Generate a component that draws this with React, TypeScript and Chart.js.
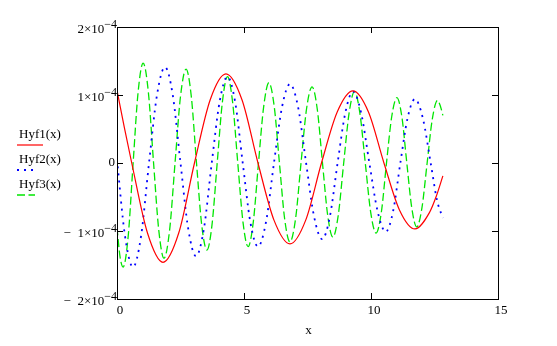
import React, { useEffect, useRef } from 'react';
import { Chart, registerables } from 'chart.js';

Chart.register(...registerables);

const UNIT = 1e-4;
const X_TICKS = [0, 5, 10, 15];
const Y_TICKS = [2, 1, 0, -1, -2];
const SERIES_NAMES = ['Hyf1(x)', 'Hyf2(x)', 'Hyf3(x)'];
const X_TITLE = 'x';

// Hyf1(x) — red solid (values in units of 1e-4)
const hyf1X = [0, 0.29, 0.58, 1.2, 1.81, 2.43, 3.05, 3.67, 4.29, 4.92, 5.55, 6.18, 6.81, 7.43, 8.05, 8.67, 9.29, 9.9, 10.51, 11.12, 11.73, 12.3, 12.57, 12.83];
const hyf1Y = [1.07, 0.52, 0, -1.03, -1.46, -1.03, 0, 0.93, 1.31, 0.93, 0, -0.84, -1.19, -0.84, 0, 0.75, 1.06, 0.75, 0, -0.69, -0.97, -0.73, -0.49, -0.19];

// Hyf2(x) — blue dotted
const hyf2X = [0, 0.31, 0.63, 0.945, 1.26, 1.575, 1.89, 2.195, 2.5, 2.805, 3.11, 3.42, 3.73, 4.04, 4.35, 4.65, 4.95, 5.25, 5.55, 5.865, 6.18, 6.495, 6.81, 7.13, 7.445, 7.76, 8.08, 8.38, 8.685, 8.99, 9.29, 9.61, 9.935, 10.26, 10.58, 10.87, 11.155, 11.44, 11.73, 12.04, 12.35, 12.6, 12.83];
const hyf2Y = [0.05, -1.06, -1.53, -1.08, 0, 1.0, 1.41, 1.0, 0, -0.97, -1.37, -0.97, 0, 0.9, 1.27, 0.9, 0, -0.87, -1.23, -0.87, 0, 0.82, 1.16, 0.82, 0, -0.79, -1.12, -0.79, 0, 0.74, 1.05, 0.74, 0, -0.71, -1.01, -0.71, 0, 0.66, 0.94, 0.66, 0, -0.55, -0.81];

// Hyf3(x) — green dashed
const hyf3X = [0, 0.12, 0.24, 0.44, 0.635, 0.83, 1.03, 1.235, 1.44, 1.645, 1.85, 2.07, 2.285, 2.5, 2.72, 2.925, 3.13, 3.335, 3.54, 3.74, 3.945, 4.15, 4.35, 4.55, 4.755, 4.96, 5.16, 5.365, 5.57, 5.775, 5.98, 6.19, 6.395, 6.6, 6.81, 7.03, 7.245, 7.46, 7.68, 7.885, 8.09, 8.295, 8.5, 8.71, 8.925, 9.14, 9.35, 9.56, 9.775, 9.99, 10.2, 10.405, 10.61, 10.815, 11.02, 11.215, 11.41, 11.605, 11.8, 12.005, 12.21, 12.415, 12.62, 12.72, 12.83];
const hyf3Y = [-0.95, -1.38, -1.53, -1.08, 0, 1.04, 1.47, 1.04, 0, -0.99, -1.4, -0.99, 0, 0.98, 1.38, 0.98, 0, -0.91, -1.28, -0.91, 0, 0.9, 1.27, 0.9, 0, -0.87, -1.23, -0.87, 0, 0.83, 1.18, 0.83, 0, -0.82, -1.16, -0.82, 0, 0.79, 1.12, 0.79, 0, -0.77, -1.09, -0.77, 0, 0.74, 1.05, 0.74, 0, -0.73, -1.03, -0.73, 0, 0.68, 0.96, 0.68, 0, -0.66, -0.94, -0.66, 0, 0.65, 0.92, 0.85, 0.7];

const COLORS = ['#ff0000', '#0000ff', '#00e600'];
const DASHES: number[][] = [[], [2, 5], [8, 3.5]];
const WIDTHS = [1.2, 1.8, 1.3];
const FONT = '"Liberation Serif", "Times New Roman", serif';

const toPoints = (xs: number[], ys: number[]) => xs.map((x, i) => ({ x, y: ys[i] * UNIT }));

const mathcadPlugin = {
  id: 'mathcadDecor',
  afterDatasetsDraw(chart: any) {
    const { ctx, chartArea: a, scales } = chart;
    const xs = scales.x;
    const ys = scales.y;
    ctx.save();
    ctx.setLineDash([]);
    ctx.strokeStyle = '#000';
    ctx.lineWidth = 1;
    const L = Math.round(a.left), T = Math.round(a.top), R = Math.round(a.right), B = Math.round(a.bottom);
    ctx.strokeRect(L + 0.5, T + 0.5, R - L, B - T);
    ctx.beginPath();
    for (const v of X_TICKS.slice(1, -1)) {
      const px = Math.round(xs.getPixelForValue(v)) + 0.5;
      ctx.moveTo(px, B); ctx.lineTo(px, B - 6);
      ctx.moveTo(px, T); ctx.lineTo(px, T + 6);
    }
    for (const v of Y_TICKS.slice(1, -1)) {
      const py = Math.round(ys.getPixelForValue(v * UNIT)) + 0.5;
      ctx.moveTo(L, py); ctx.lineTo(L + 6, py);
      ctx.moveTo(R, py); ctx.lineTo(R - 6, py);
    }
    ctx.stroke();

    ctx.fillStyle = '#000';
    ctx.font = `13px ${FONT}`;
    ctx.textAlign = 'center';
    ctx.textBaseline = 'alphabetic';
    for (const v of X_TICKS) ctx.fillText(String(v), xs.getPixelForValue(v) + 3, B + 15);
    ctx.fillText(X_TITLE, (a.left + a.right) / 2 + 1, B + 35);

    for (const v of Y_TICKS) {
      const py = ys.getPixelForValue(v * UNIT);
      if (v === 0) {
        ctx.textAlign = 'right';
        ctx.textBaseline = 'middle';
        ctx.font = `13px ${FONT}`;
        ctx.fillText('0', L - 2, py);
        continue;
      }
      ctx.textAlign = 'right';
      ctx.textBaseline = 'alphabetic';
      ctx.font = `12px ${FONT}`;
      const sup = '−4';
      ctx.fillText(sup, L, py + 1);
      const supW = ctx.measureText(sup).width;
      ctx.font = `13px ${FONT}`;
      const mant = (v < 0 ? '−  ' : '') + Math.abs(v) + '×10';
      ctx.fillText(mant, L - supW, py + 6);
    }

    // legend
    const baselines = [138, 163, 188];
    const lineLens = [26, 21, 18];
    ctx.font = `13px ${FONT}`;
    ctx.textAlign = 'left';
    ctx.textBaseline = 'alphabetic';
    SERIES_NAMES.forEach((name, i) => {
      ctx.fillStyle = '#000';
      ctx.fillText(name, 19, baselines[i]);
      ctx.beginPath();
      ctx.strokeStyle = COLORS[i];
      ctx.lineWidth = WIDTHS[i];
      ctx.setLineDash(DASHES[i]);
      ctx.moveTo(17, baselines[i] + 7);
      ctx.lineTo(17 + lineLens[i], baselines[i] + 7);
      ctx.stroke();
    });
    ctx.restore();
  },
};

export default function App() {
  const ref = useRef<HTMLCanvasElement>(null);
  useEffect(() => {
    const series = [toPoints(hyf1X, hyf1Y), toPoints(hyf2X, hyf2Y), toPoints(hyf3X, hyf3Y)];
    const chart = new Chart(ref.current as HTMLCanvasElement, {
      type: 'line',
      data: {
        datasets: series.map((data, i) => ({
          label: SERIES_NAMES[i],
          data,
          borderColor: COLORS[i],
          backgroundColor: COLORS[i],
          borderWidth: WIDTHS[i],
          borderDash: DASHES[i],
          pointRadius: 0,
          fill: false,
          cubicInterpolationMode: 'monotone' as const,
        })),
      },
      options: {
        responsive: false,
        animation: false,
        devicePixelRatio: 1,
        layout: { padding: { left: 117, top: 27, right: 59, bottom: 47 } },
        plugins: { legend: { display: false }, tooltip: { enabled: false } },
        scales: {
          x: { type: 'linear', min: 0, max: 15, display: false },
          y: { type: 'linear', min: -2 * UNIT, max: 2 * UNIT, display: false },
        },
      },
      plugins: [mathcadPlugin],
    });
    return () => chart.destroy();
  }, []);
  return (
    <div style={{ position: 'fixed', left: 0, top: 0, width: 557, height: 346, background: '#fff' }}>
      <canvas ref={ref} width={557} height={346} style={{ display: 'block' }} />
    </div>
  );
}
